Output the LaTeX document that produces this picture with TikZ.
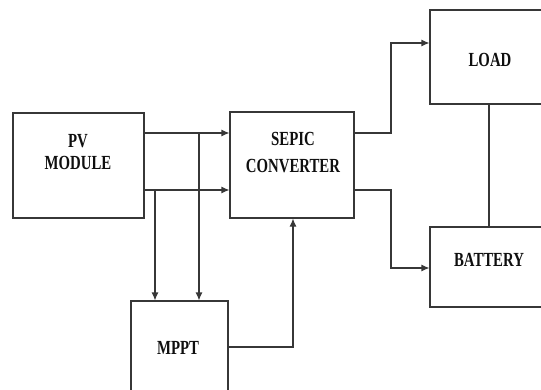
\documentclass[tikz,border=0pt]{standalone}
\usepackage{fontspec}
\setmainfont{Liberation Serif}
\usepackage{tikz}
\usetikzlibrary{
  arrows.meta,
  positioning
}
\definecolor{LineGray}{RGB}{55, 55, 55}
\definecolor{TextBlack}{RGB}{15, 15, 15}
\newcommand{\narrow}[1]{\scalebox{0.74}[1]{#1}}

\begin{document}
\begin{tikzpicture}[x=1pt, y=1pt,
    block/.style={rectangle, draw=LineGray, line width=1.1pt, inner sep=0pt},
    lbl/.style={text=TextBlack, font=\fontsize{20}{22}\selectfont\bfseries, align=center, inner sep=0pt},
    arr/.style={draw=LineGray, line width=1.1pt, -{Latex[length=8pt, width=7pt]}},
    wire/.style={draw=LineGray, line width=1.1pt}
  ]
  \useasboundingbox (0,0) rectangle (541,389);
  \clip (0,0) rectangle (541,389);

  % blocks
  \node[block, minimum width=131pt, minimum height=105pt] (pv) at (78.5,223.5) {};
  \node[block, minimum width=124pt, minimum height=106pt] (sepic) at (292,224) {};
  \node[block, minimum width=122pt, minimum height=94pt] (load) at (491,332) {};
  \node[block, minimum width=122pt, minimum height=80pt] (battery) at (491,122) {};
  \node[block, minimum width=97pt, minimum height=94pt] (mppt) at (179.5,41) {};

  % texts
  \node[lbl] (pvtext) at (78,237) {\narrow{PV}\\[0pt]\narrow{MODULE}};
  \node[lbl] (sepictext) at (293,236) {\narrow{SEPIC}\\[5pt]\narrow{CONVERTER}};
  \node[lbl] (loadtext) at (490,329) {\narrow{LOAD}};
  \node[lbl] (batterytext) at (489,129) {\narrow{BATTERY}};
  \node[lbl] (mppttext) at (178,41) {\narrow{MPPT}};

  % levels of the wires
  \coordinate (upper) at (0,256);
  \coordinate (lower) at (0,199);
  \coordinate (splitA) at (155,0);
  \coordinate (splitB) at (199,0);
  \coordinate (feed) at (293,42);
  \coordinate (branch) at (391,0);

  % PV module to converter
  \draw[arr] (pv.east |- upper) -- (sepic.west |- upper);
  \draw[arr] (pv.east |- lower) -- (sepic.west |- lower);

  % sensing lines to MPPT
  \draw[arr] (splitB |- upper) -- (splitB |- mppt.north);
  \draw[arr] (splitA |- lower) -- (splitA |- mppt.north);

  % MPPT control to converter
  \draw[arr] (mppt.east |- feed) -- (feed) -- (feed |- sepic.south);

  % converter outputs
  \draw[arr] (sepic.east |- upper) -- (branch |- upper) -- (branch |- 0,346) -- (load.west |- 0,346);
  \draw[arr] (sepic.east |- lower) -- (branch |- lower) -- (branch |- 0,121) -- (battery.west |- 0,121);

  % load to battery
  \draw[wire] (load.south -| 489,0) -- (battery.north -| 489,0);
\end{tikzpicture}
\end{document}
